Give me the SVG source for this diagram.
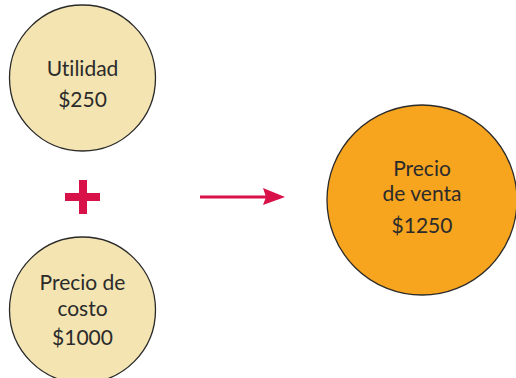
<svg xmlns="http://www.w3.org/2000/svg" width="516" height="378" viewBox="0 0 516 378">
<style>
.c{stroke:#2a2a2a;stroke-width:1.3}
.t{font-family:"Lato","Noto Sans",sans-serif;font-size:21px;fill:#2b2b2b;text-anchor:middle;font-variant-ligatures:none;font-feature-settings:"liga" 0,"tnum" 1}
</style>
<rect width="516" height="378" fill="#fff"/>
<g id="utilidad">
<circle class="c" cx="82.5" cy="78" r="73" fill="#f3e4b1"/>
<text class="t" x="82.5" y="76">Utilidad</text>
<text class="t" x="82.5" y="107">$250</text>
</g>
<g id="costo">
<circle class="c" cx="82.5" cy="310" r="73" fill="#f3e4b1"/>
<text class="t" x="82.5" y="290">Precio de</text>
<text class="t" x="82.5" y="316">costo</text>
<text class="t" x="82.5" y="345">$1000</text>
</g>
<g id="venta">
<circle class="c" cx="422" cy="200" r="95" fill="#f7a41f"/>
<text class="t" x="422" y="176">Precio</text>
<text class="t" x="422" y="201">de venta</text>
<text class="t" x="422" y="233">$1250</text>
</g>
<g id="connectors">
<path d="M65 193h35v8h-35z M79 180h8v34h-8z" fill="#d81149"/>
<line x1="200" y1="197" x2="266" y2="197" stroke="#d81149" stroke-width="3"/>
<path d="M285 197 L263 188 L266 197 L263 205 Z" fill="#d81149"/>
</g>
</svg>
